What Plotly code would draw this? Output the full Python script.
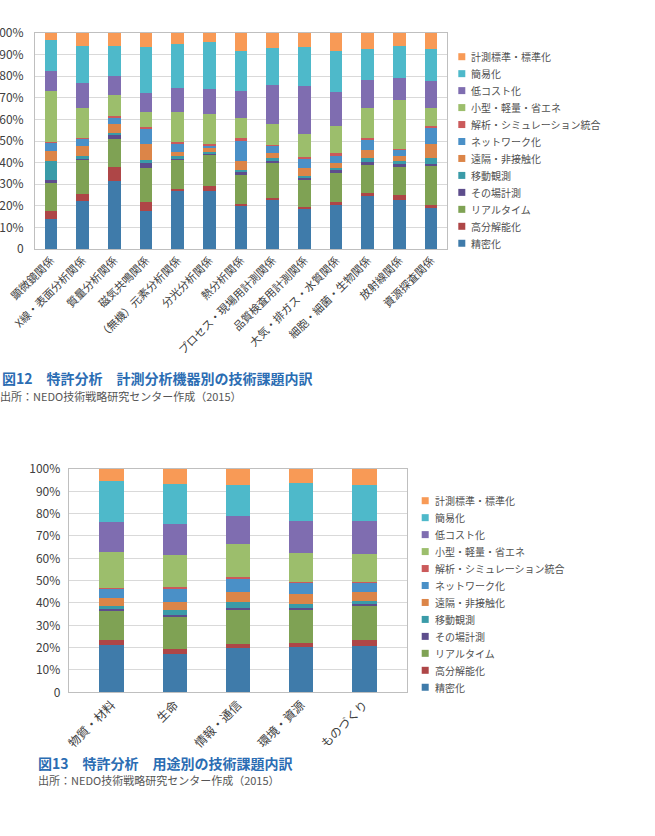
import plotly.graph_objects as go

W, H = 655, 836

series = ["精密化", "高分解能化", "リアルタイム", "その場計測", "移動観測", "遠隔・非接触化",
          "ネットワーク化", "解析・シミュレーション統合", "小型・軽量・省エネ", "低コスト化",
          "簡易化", "計測標準・標準化"]
colors = ["#3F7BAA", "#AE4647", "#7FA254", "#5D4D8C", "#3A9BA8", "#DC8548",
          "#4A90C7", "#CB5A5B", "#9CBE6C", "#7F6DB0", "#4EB9CA", "#F89A56"]

cats_top = ["顕微鏡関係", "X線・表面分析関係", "質量分析関係", "磁気共鳴関係", "（無機）元素分析関係",
            "分光分析関係", "熱分析関係", "プロセス・現場用計測関係", "品質検査用計測関係",
            "大気・排ガス・水質関係", "細胞・細菌・生物関係", "放射線関係", "資源探査関係"]

top_precision   = [14.0, 22.1, 31.6, 17.6, 26.9, 27.0, 20.2, 22.8, 18.5, 20.8, 24.7, 22.8, 19.1]
top_resolution  = [3.4, 3.5, 6.4, 4.2, 0.7, 2.2, 0.6, 0.8, 1.1, 0.8, 1.2, 2.4, 1.1]
top_realtime    = [13.6, 15.4, 12.9, 15.9, 13.8, 14.5, 13.9, 16.2, 12.8, 13.9, 13.3, 13.2, 18.5]
top_insitu      = [0.9, 1.0, 1.7, 2.1, 0.7, 0.6, 0.9, 1.1, 0.9, 0.9, 0.9, 0.8, 0.8]
top_mobile      = [8.7, 0.9, 1.1, 1.2, 0.8, 0.6, 1.1, 1.1, 0.7, 1.1, 2.0, 1.4, 2.8]
top_remote      = [4.9, 4.6, 4.3, 7.8, 1.9, 2.3, 4.0, 2.6, 3.5, 2.5, 3.6, 2.5, 6.5]
top_network     = [3.6, 3.6, 3.1, 7.2, 4.0, 0.8, 9.6, 3.2, 4.6, 3.5, 4.9, 2.9, 7.4]
top_simulation  = [0.3, 0.3, 0.3, 0.3, 0.6, 0.5, 0.9, 0.3, 0.6, 0.8, 0.8, 0.3, 0.7]
top_compact     = [23.9, 14.0, 9.9, 7.1, 14.0, 14.0, 9.6, 9.9, 10.7, 12.5, 14.0, 22.5, 8.5]
top_lowcost     = [9.0, 11.3, 8.8, 9.0, 11.0, 11.4, 12.3, 17.8, 22.2, 15.7, 12.7, 10.4, 12.5]
top_simple      = [14.6, 17.4, 13.7, 21.1, 20.5, 21.9, 18.6, 17.1, 17.8, 19.0, 14.5, 14.8, 14.7]
top_standard    = [3.1, 5.9, 6.2, 6.5, 5.1, 4.2, 8.3, 7.1, 6.6, 8.5, 7.4, 6.0, 7.4]

cats_bot = ["物質・材料", "生命", "情報・通信", "環境・資源", "ものづくり"]

bot_precision   = [21.2, 17.0, 19.7, 20.4, 20.7]
bot_resolution  = [2.2, 2.4, 1.9, 1.8, 2.7]
bot_realtime    = [13.2, 14.2, 15.3, 14.7, 15.3]
bot_insitu      = [0.6, 0.9, 0.9, 0.7, 0.7]
bot_mobile      = [1.6, 2.2, 2.8, 2.0, 1.6]
bot_remote      = [3.3, 3.9, 4.2, 4.3, 4.1]
bot_network     = [4.5, 6.0, 6.2, 5.2, 4.0]
bot_simulation  = [0.3, 0.4, 0.8, 0.5, 0.5]
bot_compact     = [15.9, 14.3, 14.5, 12.9, 12.5]
bot_lowcost     = [13.5, 14.1, 12.8, 14.2, 14.8]
bot_simple      = [18.3, 18.0, 13.6, 17.2, 15.8]
bot_standard    = [5.4, 6.6, 7.3, 6.1, 7.3]

top_vals = [top_precision, top_resolution, top_realtime, top_insitu, top_mobile, top_remote,
            top_network, top_simulation, top_compact, top_lowcost, top_simple, top_standard]
bot_vals = [bot_precision, bot_resolution, bot_realtime, bot_insitu, bot_mobile, bot_remote,
            bot_network, bot_simulation, bot_compact, bot_lowcost, bot_simple, bot_standard]

ytick_vals = [0, 10, 20, 30, 40, 50, 60, 70, 80, 90, 100]
ytick_text = ["0", "10%", "20%", "30%", "40%", "50%", "60%", "70%", "80%", "90%", "100%"]

FONT = "Noto Sans CJK JP, Noto Sans, sans-serif"
TXT = "#404040"
LEG_TXT = "#505050"

fig = go.Figure()

for name, col, vals in zip(series, colors, top_vals):
    fig.add_trace(go.Bar(x=cats_top, y=vals, name=name, marker=dict(color=col, line=dict(width=0)),
                         xaxis="x", yaxis="y", width=0.4, showlegend=False))
for name, col, vals in zip(series, colors, bot_vals):
    fig.add_trace(go.Bar(x=cats_bot, y=vals, name=name, marker=dict(color=col, line=dict(width=0)),
                         xaxis="x2", yaxis="y2", width=0.39, showlegend=False))


def px_x(p):
    return p / W


def px_y(p):
    return 1 - p / H


axis_common = dict(showline=True, linecolor="#BFBFBF", linewidth=1, mirror=True,
                   automargin=False, fixedrange=True)

fig.update_layout(
    width=W, height=H, autosize=False,
    margin=dict(l=0, r=0, t=0, b=0),
    paper_bgcolor="white", plot_bgcolor="white",
    barmode="stack", showlegend=False,
    font=dict(family=FONT, color=TXT),
    xaxis=dict(domain=[px_x(35), px_x(447)], anchor="y", range=[-0.5, 12.5],
               tickangle=-45, tickfont=dict(size=11, color=TXT), ticks="",
               showgrid=False, **axis_common),
    yaxis=dict(domain=[px_y(249), px_y(33)], anchor="x", range=[0, 100],
               tickvals=ytick_vals, ticktext=ytick_text, tickfont=dict(size=12, color=TXT),
               showgrid=True, gridcolor="#D9D9D9", gridwidth=1, ticks="",
               ticklabelstandoff=8, **axis_common),
    xaxis2=dict(domain=[px_x(68.7), px_x(407.3)], anchor="y2", range=[-0.68, 4.68],
                tickangle=-45, tickfont=dict(size=12, color=TXT), ticks="",
                showgrid=False, **axis_common),
    yaxis2=dict(domain=[px_y(692.3), px_y(469)], anchor="x2", range=[0, 100],
                tickvals=ytick_vals, ticktext=ytick_text, tickfont=dict(size=12, color=TXT),
                showgrid=True, gridcolor="#D9D9D9", gridwidth=1, ticks="",
                ticklabelstandoff=5, **axis_common),
)

# Legends (drawn as colour squares + text, top entry = last series)
def add_legend(sq_left, text_left, first_center, step):
    for k, (name, col) in enumerate(zip(reversed(series), reversed(colors))):
        cy = first_center + k * step
        fig.add_shape(type="rect", xref="paper", yref="paper",
                      x0=px_x(sq_left), x1=px_x(sq_left + 7),
                      y0=px_y(cy + 3.5), y1=px_y(cy - 3.5),
                      fillcolor=col, line=dict(width=0))
        fig.add_annotation(x=px_x(text_left), y=px_y(cy), xref="paper", yref="paper",
                           xanchor="left", yanchor="middle", text=name, showarrow=False,
                           font=dict(size=10, color=LEG_TXT, family=FONT))


add_legend(458.3, 469, 56.7, 16.96)
add_legend(421.7, 433, 500.7, 16.96)

CAP_BLUE = "#2B6DB3"
fig.add_annotation(x=0, y=px_y(378), xref="paper", yref="paper", xanchor="left", yanchor="middle",
                   text="<b>図12　特許分析　計測分析機器別の技術課題内訳</b>", showarrow=False,
                   font=dict(size=14, color=CAP_BLUE, family=FONT))
fig.add_annotation(x=px_x(-2), y=px_y(396), xref="paper", yref="paper", xanchor="left", yanchor="middle",
                   text="出所：NEDO技術戦略研究センター作成（2015）", showarrow=False,
                   font=dict(size=11, color="#555555", family=FONT))
fig.add_annotation(x=px_x(36), y=px_y(763), xref="paper", yref="paper", xanchor="left", yanchor="middle",
                   text="<b>図13　特許分析　用途別の技術課題内訳</b>", showarrow=False,
                   font=dict(size=14, color=CAP_BLUE, family=FONT))
fig.add_annotation(x=px_x(36), y=px_y(780), xref="paper", yref="paper", xanchor="left", yanchor="middle",
                   text="出所：NEDO技術戦略研究センター作成（2015）", showarrow=False,
                   font=dict(size=11, color="#555555", family=FONT))

fig.write_html("out.html")
